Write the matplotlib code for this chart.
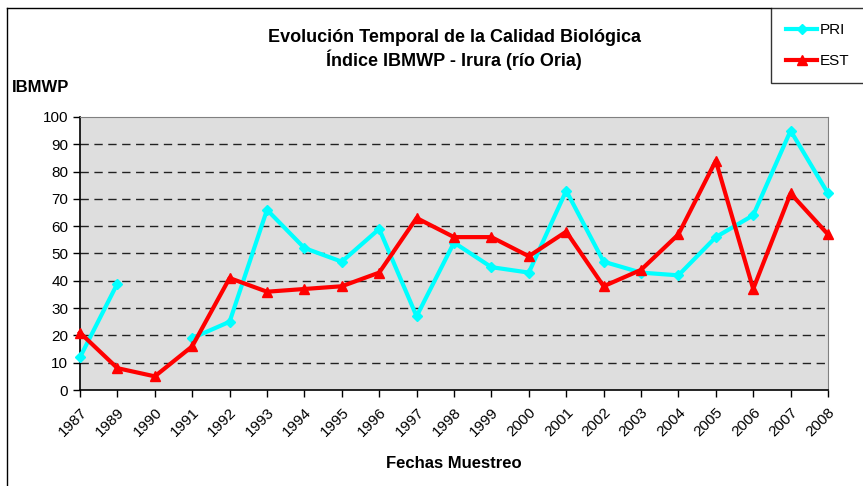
import numpy as np
import matplotlib
matplotlib.use("Agg")
import matplotlib.pyplot as plt
from matplotlib.lines import Line2D

plt.rcParams['font.family'] = ['Liberation Sans', 'DejaVu Sans']

# Data
years = ['1987', '1989', '1990', '1991', '1992', '1993', '1994', '1995', '1996', '1997', '1998',
         '1999', '2000', '2001', '2002', '2003', '2004', '2005', '2006', '2007', '2008']
pri = [12, 39, np.nan, 19, 25, 66, 52, 47, 59, 27, 54,
       45, 43, 73, 47, 43, 42, 56, 64, 95, 72]
est = [21, 8, 5, 16, 41, 36, 37, 38, 43, 63, 56,
       56, 49, 58, 38, 44, 57, 84, 37, 72, 57]
yticks = list(range(0, 101, 10))

fig = plt.figure(figsize=(8.63, 4.86), dpi=100)
ax = fig.add_axes([80 / 863, 1 - 390 / 486, (828 - 80) / 863, (390 - 117) / 486])

x = np.arange(len(years))
ax.set_facecolor('#dedede')

# dashed grid lines
for v in yticks[1:-1]:
    ax.axhline(v, color='#222222', linestyle=(0, (6, 4)), linewidth=1, zorder=1)

ax.plot(x, pri, color='#00ffff', linewidth=3, marker='D', markersize=5, zorder=3, clip_on=False)
ax.plot(x, est, color='#ff0000', linewidth=3, marker='^', markersize=7, zorder=3, clip_on=False)

ax.set_xlim(0, len(years) - 1)
ax.set_ylim(0, 100)
ax.set_yticks(yticks)
ax.set_xticks(x)
ax.set_xticklabels(years, rotation=45, ha='right', rotation_mode='anchor')
ax.tick_params(axis='both', labelsize=11, direction='out', length=5, width=1, colors='black')
ax.tick_params(axis='x', pad=6)

for s in ['top', 'right']:
    ax.spines[s].set_color('#808080')
for s in ['left', 'bottom']:
    ax.spines[s].set_color('black')
    ax.spines[s].set_linewidth(1.2)

fig.text(454 / 863, 1 - 37 / 486, 'Evolución Temporal de la Calidad Biológica',
         ha='center', va='center', fontsize=13, fontweight='bold')
fig.text(454 / 863, 1 - 60 / 486, 'Índice IBMWP - Irura (río Oria)',
         ha='center', va='center', fontsize=13, fontweight='bold')
fig.text(12 / 863, 1 - 87 / 486, 'IBMWP', ha='left', va='center', fontsize=12, fontweight='bold')
fig.text(454 / 863, 1 - 463 / 486, 'Fechas Muestreo', ha='center', va='center',
         fontsize=12, fontweight='bold')

# outer chart border
fig.add_artist(Line2D([7 / 863, 7 / 863], [0, 1 - 8 / 486], color='black', linewidth=1,
                      transform=fig.transFigure))
fig.add_artist(Line2D([7 / 863, 771 / 863], [1 - 8 / 486, 1 - 8 / 486], color='black',
                      linewidth=1, transform=fig.transFigure))

handles = [Line2D([], [], color='#00ffff', linewidth=3, marker='D', markersize=5),
           Line2D([], [], color='#ff0000', linewidth=3, marker='^', markersize=7)]
leg = fig.legend(handles, ['PRI', 'EST'], loc='upper left',
                 bbox_to_anchor=(771 / 863, 1 - 8 / 486), fontsize=11, frameon=True,
                 fancybox=False, borderpad=1.0, labelspacing=1.1, handlelength=2.0,
                 handletextpad=0.2, borderaxespad=0)
leg.get_frame().set_edgecolor('black')
leg.get_frame().set_linewidth(1)

fig.savefig('out.png', dpi=100)
